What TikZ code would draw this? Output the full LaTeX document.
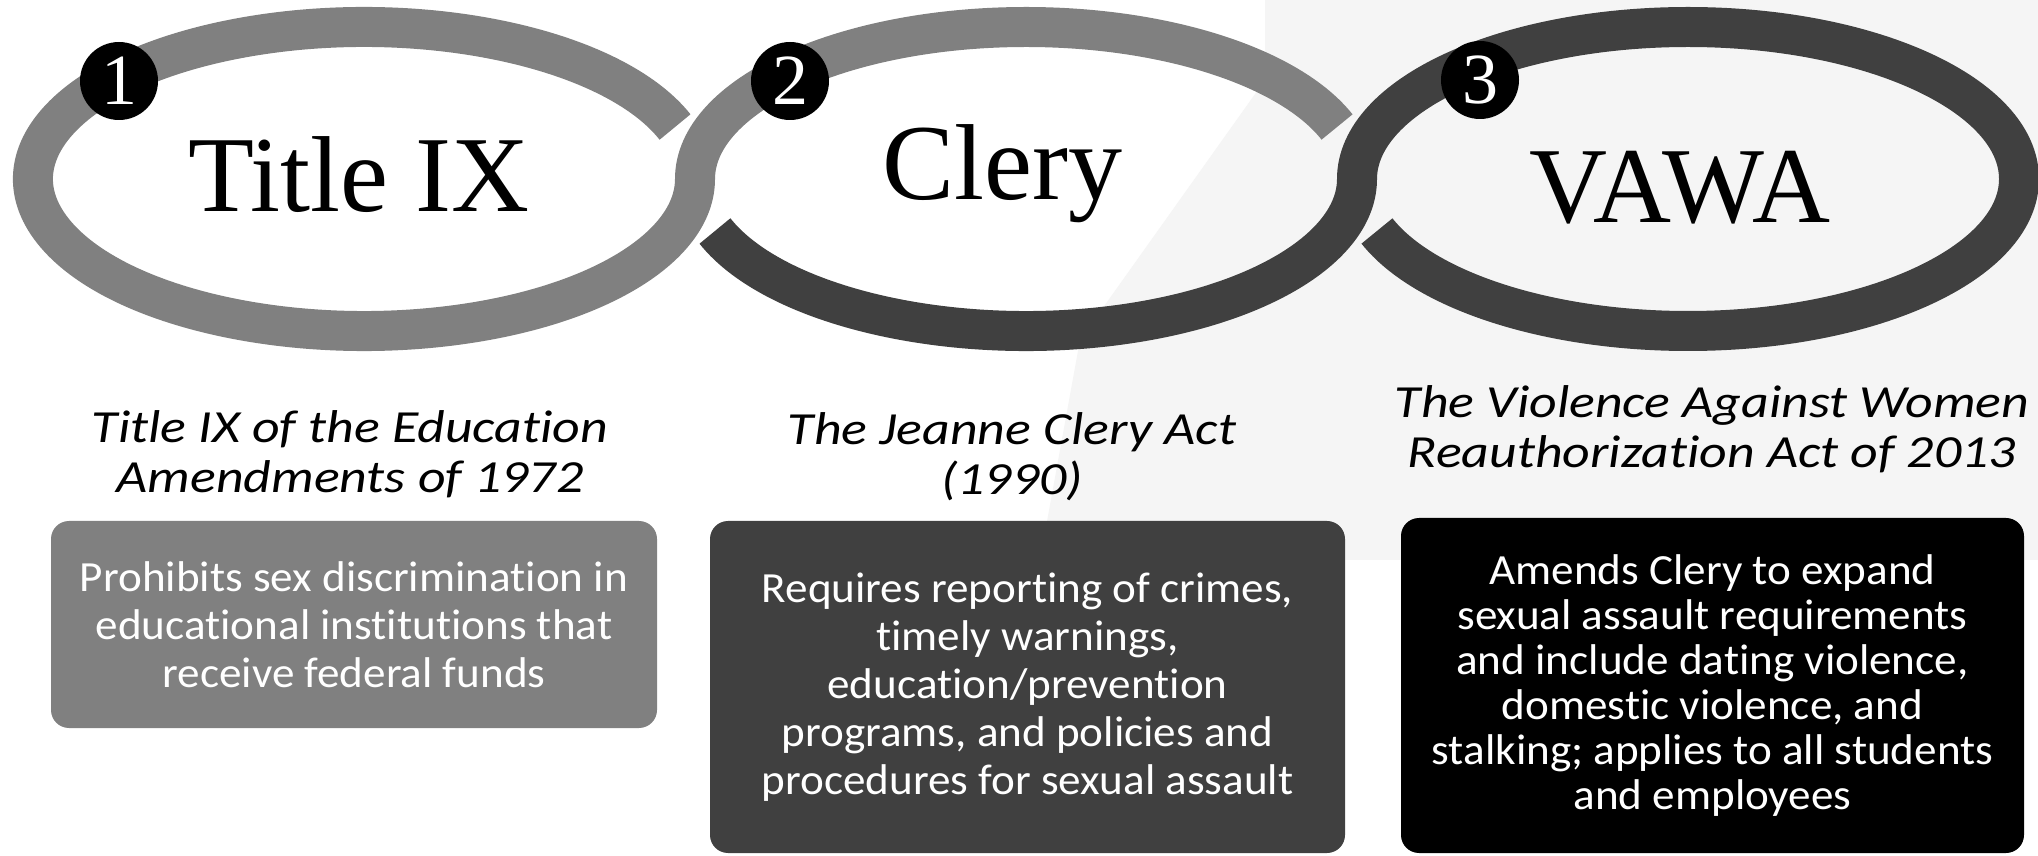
\documentclass[tikz,border=0pt]{standalone}
\usepackage{fontspec}
\setmainfont{Liberation Serif}
\newfontfamily\bodyfont{Carlito}[FakeStretch=1.05, Ligatures=NoCommon]
\newfontfamily\subfont{Carlito}[FakeStretch=1.17, Ligatures=NoCommon]
\usetikzlibrary{calc}
\definecolor{cgray}{HTML}{808080}
\definecolor{cdark}{HTML}{404040}
\definecolor{cwash}{HTML}{F5F5F5}
\tikzset{
  ringline/.style={line width=40pt},
  numdot/.style={circle, fill=black, minimum size=78pt, inner sep=0pt, text=white,
    font=\fontsize{72}{72}\selectfont},
  ringtitle/.style={anchor=base, inner sep=0pt, font=\fontsize{108}{108}\selectfont},
  subtitle/.style={anchor=base, inner sep=0pt, align=center,
    font=\subfont\itshape\fontsize{46}{50}\selectfont},
  infobox/.style={rounded corners=18pt, inner sep=0pt, align=center, text=white,
    font=\bodyfont\fontsize{43}{48}\selectfont},
}
\begin{document}
\begin{tikzpicture}[x=1pt,y=1pt]
\useasboundingbox (0,0) rectangle (2038,855);
\fill[white] (0,0) rectangle (2038,855);
% faint background wash
\fill[cwash] (1265,855) -- (2038,855) -- (2038,295) -- (1040,295) -- (1080,515) -- (1265,775) -- cycle;

\coordinate (c1) at (364,676);
\coordinate (c2) at (1026,676);
\coordinate (c3) at (1688,676);

% gray strand: ring 1 and the upper half of ring 2
\draw[ringline, cgray] ($(c1)+(20:331 and 152)$)
  arc[start angle=20, end angle=360, x radius=331, y radius=152]
  arc[start angle=180, end angle=20, x radius=331, y radius=152];
% dark strand: lower half of ring 2 and ring 3
\draw[ringline, cdark] ($(c2)+(200:331 and 152)$)
  arc[start angle=200, end angle=360, x radius=331, y radius=152]
  arc[start angle=180, end angle=-160, x radius=331, y radius=152];

\node[numdot] (n1) at (119,774) {1};
\node[numdot] (n2) at (790,774) {2};
\node[numdot] (n3) at (1480,775) {3};

\node[ringtitle] (t1) at (359,643) {Title IX};
\node[ringtitle] (t2) at (1002,655) {Clery};
\node[ringtitle] (t3) at (1680,632) {VAWA};

% base anchor sits on the last line
\node[subtitle] (s1) at (350,362) {Title IX of the Education\\Amendments of 1972};
\node[subtitle] (s2) at (1012,360) {The Jeanne Clery Act\\(1990)};
\node[subtitle] (s3) at (1712,387) {The Violence Against Women\\Reauthorization Act of 2013};

\node[infobox, fill=cgray, minimum width=606pt, minimum height=207pt] (b1) at (354,230.5)
  {Prohibits sex discrimination in\\educational institutions that\\receive federal funds};
\node[infobox, fill=cdark, minimum width=635pt, minimum height=332pt] (b2) at (1027.5,168)
  {Requires reporting of crimes,\\timely warnings,\\education/prevention\\programs, and policies and\\procedures for sexual assault};
\node[infobox, fill=black, minimum width=623pt, minimum height=335pt,
  font=\bodyfont\fontsize{43}{45}\selectfont] (b3) at (1712.5,169.5)
  {Amends Clery to expand\\sexual assault requirements\\and include dating violence,\\domestic violence, and\\stalking; applies to all students\\and employees};
\end{tikzpicture}
\end{document}
